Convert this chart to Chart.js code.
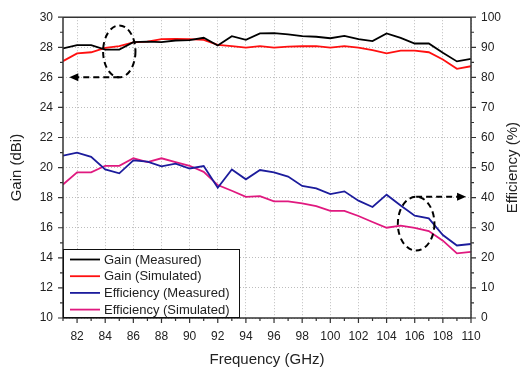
<!DOCTYPE html>
<html>
<head>
<meta charset="utf-8">
<script src="https://cdn.jsdelivr.net/npm/chart.js@4.4.0/dist/chart.umd.min.js"></script>
<style>
  body { margin: 0; background: #fff; }
  #wrap { width: 525px; height: 369px; }
</style>
</head>
<body>
<div id="wrap"><canvas id="grafico" width="525" height="369"></canvas></div>
<script>
// frequências (GHz)
const frequencias = [81, 82, 83, 84, 85, 86, 87, 88, 89, 90, 91, 92, 93, 94, 95,
  96, 97, 98, 99, 100, 101, 102, 103, 104, 105, 106, 107, 108, 109, 110];

// ganho (dBi)
const ganhoMedido = [27.92, 28.14, 28.14, 27.85, 27.85, 28.34, 28.38, 28.34, 28.45, 28.47,
  28.63, 28.12, 28.74, 28.49, 28.92, 28.94, 28.86, 28.74, 28.70, 28.60,
  28.76, 28.54, 28.41, 28.92, 28.63, 28.25, 28.25, 27.63, 27.06, 27.23];
const ganhoSimulado = [27.08, 27.59, 27.67, 27.96, 28.07, 28.32, 28.38, 28.54, 28.56, 28.54,
  28.49, 28.16, 28.07, 27.98, 28.07, 27.98, 28.04, 28.07, 28.07, 27.98,
  28.07, 27.98, 27.81, 27.59, 27.78, 27.78, 27.67, 27.19, 26.57, 26.74];

// eficiência (%)
const eficMedida = [54.0, 55.0, 53.6, 49.4, 48.1, 52.4, 52.0, 50.4, 51.3, 49.7,
  50.5, 43.3, 49.4, 46.1, 49.2, 48.4, 47.0, 43.9, 43.1, 41.2,
  42.1, 39.0, 36.9, 41.0, 37.4, 34.0, 33.1, 27.6, 24.1, 24.6];
const eficSimulada = [44.4, 48.4, 48.4, 50.6, 50.6, 53.1, 51.8, 53.1, 51.8, 50.6,
  48.6, 44.2, 42.3, 40.3, 40.5, 38.8, 38.8, 38.1, 37.2, 35.6,
  35.6, 33.9, 31.9, 30.0, 30.7, 30.0, 28.9, 25.7, 21.5, 22.0];

const legendas = ['Gain (Measured)', 'Gain (Simulated)', 'Efficiency (Measured)', 'Efficiency (Simulated)'];
const cores = ['#000000', '#ff1010', '#1c1c9c', '#e0197f'];

// marcações (elipses + setas) em unidades dos dados
const marcacoes = [
  { eixo: 'yGanho', x: 85, yTopo: 29.45, yBase: 26.0, meiaLargura: 1.15, setaY: 26.0, setaDe: 85, setaAte: 81.45 },
  { eixo: 'yEfic', x: 106.1, yTopo: 40.3, yBase: 22.4, meiaLargura: 1.3, setaY: 40.3, setaDe: 106.1, setaAte: 109.65 }
];

function serie(valores) {
  return frequencias.map((f, i) => ({ x: f, y: valores[i] }));
}

const fonte = '"Liberation Sans", Arial, sans-serif';
const corTexto = '#222';
const corEixo = '#333';

const pluginEixos = {
  id: 'eixos',
  afterDraw(chart) {
    const ctx = chart.ctx;
    const a = chart.chartArea;
    const sx = chart.scales.x, sg = chart.scales.yGanho, se = chart.scales.yEfic;
    ctx.save();
    ctx.strokeStyle = corEixo;
    ctx.lineWidth = 1.5;
    ctx.beginPath();
    ctx.moveTo(a.left, a.top); ctx.lineTo(a.right, a.top);
    ctx.moveTo(a.left, a.top); ctx.lineTo(a.left, a.bottom);
    ctx.moveTo(a.right, a.top); ctx.lineTo(a.right, a.bottom);
    ctx.moveTo(a.left, a.bottom); ctx.lineTo(a.right, a.bottom);
    ctx.stroke();

    ctx.lineWidth = 1.2;
    ctx.beginPath();
    for (let f = 81; f <= 110; f++) {
      const px = sx.getPixelForValue(f);
      const len = f % 2 === 0 ? 5 : 3;
      ctx.moveTo(px, a.bottom); ctx.lineTo(px, a.bottom + len);
    }
    for (let g = 10; g <= 30; g++) {
      const py = sg.getPixelForValue(g);
      const len = g % 2 === 0 ? 5 : 3;
      ctx.moveTo(a.left, py); ctx.lineTo(a.left - len, py);
    }
    for (let e = 0; e <= 100; e += 5) {
      const py = se.getPixelForValue(e);
      const len = e % 10 === 0 ? 5 : 3;
      ctx.moveTo(a.right, py); ctx.lineTo(a.right + len, py);
    }
    ctx.stroke();

    // título do eixo direito (lido de baixo para cima)
    ctx.fillStyle = corTexto;
    ctx.font = '15px ' + fonte;
    ctx.textAlign = 'center';
    ctx.textBaseline = 'middle';
    ctx.save();
    ctx.translate(513, (a.top + a.bottom) / 2);
    ctx.rotate(-Math.PI / 2);
    ctx.fillText('Efficiency (%)', 0, 0);
    ctx.restore();

    // marcações tracejadas
    ctx.strokeStyle = '#000';
    ctx.fillStyle = '#000';
    ctx.lineWidth = 2;
    marcacoes.forEach(m => {
      const sy = chart.scales[m.eixo];
      const cx = sx.getPixelForValue(m.x);
      const yt = sy.getPixelForValue(m.yTopo);
      const yb = sy.getPixelForValue(m.yBase);
      const rx = sx.getPixelForValue(m.x + m.meiaLargura) - cx;
      ctx.setLineDash([6, 4]);
      ctx.beginPath();
      ctx.ellipse(cx, (yt + yb) / 2, rx, (yb - yt) / 2, 0, 0, Math.PI * 2);
      ctx.stroke();
      const y = sy.getPixelForValue(m.setaY);
      const x0 = sx.getPixelForValue(m.setaDe);
      const x1 = sx.getPixelForValue(m.setaAte);
      const dir = x1 > x0 ? 1 : -1;
      ctx.beginPath();
      ctx.moveTo(x0, y); ctx.lineTo(x1 - dir * 8, y);
      ctx.stroke();
      ctx.setLineDash([]);
      ctx.beginPath();
      ctx.moveTo(x1, y);
      ctx.lineTo(x1 - dir * 9, y - 4);
      ctx.lineTo(x1 - dir * 9, y + 4);
      ctx.closePath();
      ctx.fill();
    });

    // legenda
    const lx = a.left, lw = 177, lh = 69, ly = a.bottom - lh;
    ctx.setLineDash([]);
    ctx.fillStyle = '#fff';
    ctx.fillRect(lx, ly, lw, lh);
    ctx.strokeStyle = '#111';
    ctx.lineWidth = 1;
    ctx.strokeRect(lx + 0.5, ly + 0.5, lw - 1, lh - 1);
    ctx.font = '13px ' + fonte;
    ctx.textAlign = 'left';
    ctx.textBaseline = 'middle';
    chart.data.datasets.forEach((ds, i) => {
      const yy = ly + 10.5 + i * 16.7;
      ctx.strokeStyle = ds.borderColor;
      ctx.lineWidth = 1.8;
      ctx.beginPath();
      ctx.moveTo(lx + 7, yy); ctx.lineTo(lx + 37, yy);
      ctx.stroke();
      ctx.fillStyle = corTexto;
      ctx.fillText(ds.label, lx + 41, yy + 0.5);
    });
    ctx.restore();
  }
};

const conjuntos = [ganhoMedido, ganhoSimulado, eficMedida, eficSimulada].map((v, i) => ({
  label: legendas[i],
  data: serie(v),
  borderColor: cores[i],
  backgroundColor: cores[i],
  borderWidth: 1.8,
  pointRadius: 0,
  tension: 0,
  yAxisID: i < 2 ? 'yGanho' : 'yEfic'
}));

const grade = {
  drawTicks: false,
  lineWidth: 1,
  color: c => (c.tick && c.tick.value % 2 === 0) ? '#bdbdbd' : 'rgba(0,0,0,0)'
};

new Chart(document.getElementById('grafico').getContext('2d'), {
  type: 'line',
  data: { datasets: conjuntos },
  options: {
    responsive: false,
    animation: false,
    devicePixelRatio: 1,
    layout: { padding: { top: 17, left: 0, right: 0, bottom: 0 } },
    plugins: { legend: { display: false }, tooltip: { enabled: false } },
    scales: {
      x: {
        type: 'linear',
        min: 81, max: 110,
        afterFit: s => { s.height = 51; },
        ticks: {
          stepSize: 1, autoSkip: false, maxRotation: 0, padding: 11,
          color: corTexto, font: { size: 12, family: fonte },
          callback: v => v % 2 === 0 ? v : ''
        },
        grid: grade,
        border: { display: false, dash: [1, 2] },
        title: { display: true, text: 'Frequency (GHz)', color: corTexto, font: { size: 15, family: fonte }, padding: { top: 0, bottom: 0 } }
      },
      yGanho: {
        position: 'left',
        min: 10, max: 30,
        afterFit: s => { s.width = 63; },
        ticks: {
          stepSize: 2, padding: 10,
          color: corTexto, font: { size: 12, family: fonte }
        },
        grid: { drawTicks: false, color: '#bdbdbd', lineWidth: 1 },
        border: { display: false, dash: [1, 2] },
        title: { display: true, text: 'Gain (dBi)', color: corTexto, font: { size: 15, family: fonte }, padding: { top: 8, bottom: 0 } }
      },
      yEfic: {
        position: 'right',
        min: 0, max: 100,
        afterFit: s => { s.width = 54; },
        ticks: {
          stepSize: 10, padding: 10,
          color: corTexto, font: { size: 12, family: fonte }
        },
        grid: { display: false, drawTicks: false },
        border: { display: false }
      }
    }
  },
  plugins: [pluginEixos]
});
</script>
</body>
</html>
